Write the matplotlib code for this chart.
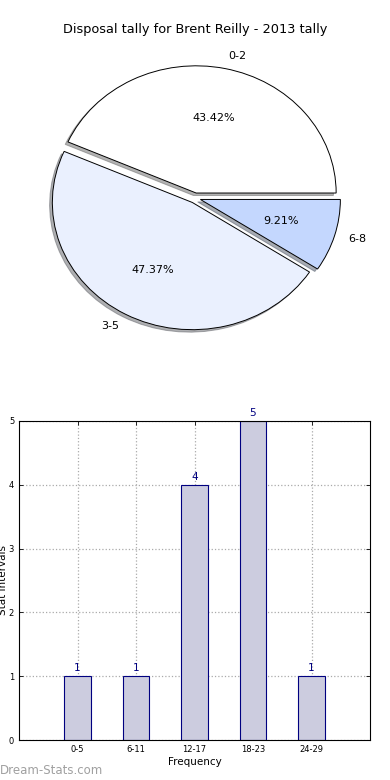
import numpy as np
import matplotlib
matplotlib.use("Agg")
import matplotlib.pyplot as plt

# pie data
pie_labels = ['0-2', '3-5', '6-8']
pie_counts = [33, 36, 7]
pie_colors = ['#ffffff', '#eaf0fe', '#c4d7fe']

# bar data
bar_labels = ['0-5', '6-11', '12-17', '18-23', '24-29']
bar_values = [1, 1, 4, 5, 1]

fig = plt.figure(figsize=(3.9, 7.8), dpi=100)

# pie chart
ax1 = fig.add_axes([20/390, 1 - 357/780, 350/390, 318/780])
wedges, texts, autotexts = ax1.pie(pie_counts, labels=pie_labels, colors=pie_colors,
                                   explode=[0.04, 0.04, 0.04], autopct='%.2f%%',
                                   shadow={'ox': -0.014, 'oy': -0.014, 'shade': 0.6},
                                   startangle=0,
                                   wedgeprops=dict(edgecolor='black', linewidth=0.7),
                                   textprops=dict(fontsize=8))
ax1.set_aspect('auto')
ax1.set_xlim(-1.25, 1.25)
ax1.set_ylim(-1.25, 1.25)
fig.text(0.5, 1 - 30/780, 'Disposal tally for Brent Reilly - 2013 tally',
         ha='center', va='center', fontsize=9.3)

# bar chart
ax2 = fig.add_axes([19/390, 40/780, 351/390, 319/780])
x = np.arange(len(bar_labels))
bars = ax2.bar(x, bar_values, width=0.45, color='#ccccdf', edgecolor='navy',
               linewidth=0.8, zorder=2)
for xi, v in zip(x, bar_values):
    ax2.text(xi, v + 0.05, str(v), ha='center', va='bottom', color='navy', fontsize=7.5)
ax2.set_xlim(-1, 5)
ax2.set_ylim(0, 5)
ax2.set_xticks(x)
ax2.set_xticklabels(bar_labels)
ax2.set_yticks(range(6))
ax2.tick_params(direction='in', labelsize=6, top=True, right=True, length=3, width=0.6)
ax2.grid(True, linestyle=':', color='#aaaaaa', linewidth=0.9, zorder=0)
ax2.set_axisbelow(True)
ax2.set_xlabel('Frequency', fontsize=7.5, labelpad=2)
fig.text(3/390, 1 - 580/780, 'Stat Intervals', rotation=90, ha='center', va='center', fontsize=7.5)
fig.text(0/390, 1 - 770/780, 'Dream-Stats.com', ha='left', va='center', fontsize=8.5,
         color='#a0a0a0')

plt.savefig('out.png', dpi=100)
